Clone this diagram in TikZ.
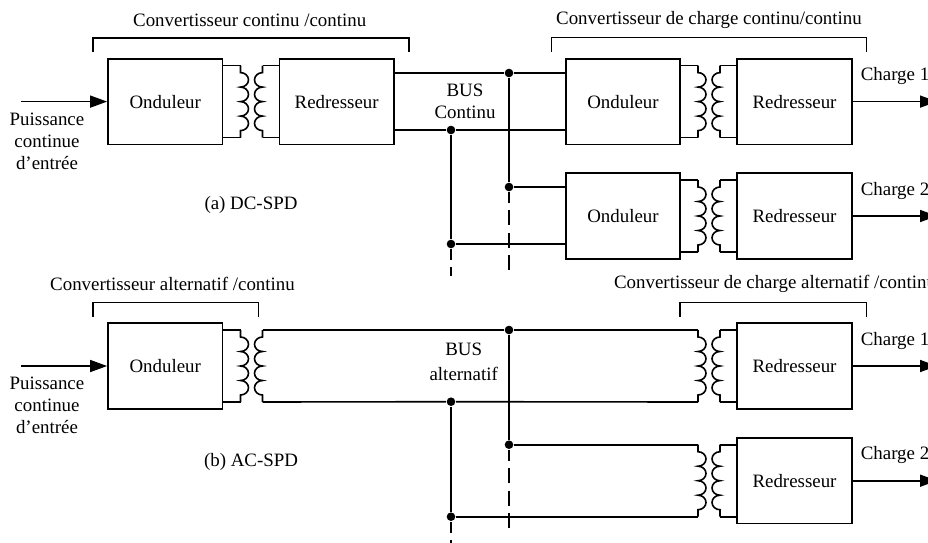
\documentclass[tikz,border=0pt]{standalone}
\usepackage{fontspec}
\setmainfont{Liberation Serif}
\usetikzlibrary{arrows.meta}

\newcommand{\coupler}[4]{
  \draw (#2,#3-#4) coordinate (#1a) -- (#2,#3-29) arc (90:-90:8pt and 7.25pt) arc (90:-90:8pt and 7.25pt)
    arc (90:-90:8pt and 7.25pt) arc (90:-90:8pt and 7.25pt) -- (#2,#3+#4) coordinate (#1b);
  \draw (#2+22,#3-#4) coordinate (#1c) -- (#2+22,#3-29) arc (90:270:8pt and 7.25pt) arc (90:270:8pt and 7.25pt)
    arc (90:270:8pt and 7.25pt) arc (90:270:8pt and 7.25pt) -- (#2+22,#3+#4) coordinate (#1d);
}

\begin{document}
\begin{tikzpicture}[x=1pt,y=-1pt,>={Triangle[length=17pt,width=12pt]},line width=1.6pt,node distance=171.5pt,
  font=\fontsize{18.9pt}{22pt}\selectfont,
  main node/.style={rectangle,draw,line width=1.7pt,inner sep=0pt,minimum width=114.5pt,minimum height=85.7pt},
  dot node/.style={circle,fill,inner sep=0pt,minimum size=8.6pt},
  text node/.style={align=center,inner sep=0pt},
  open line/.style={line width=2.8pt,dash pattern=on 15pt off 7.5pt,dash phase=4.3pt},
  span line/.style={line width=1.4pt}]

  \useasboundingbox (0,0) rectangle (928,542);

  \node[main node] (ond1) at (165.2,101.6) {Onduleur};
  \node[main node] (red1) [right of=ond1] {Redresseur};
  \node[main node] (ond2) at (623,101.6) {Onduleur};
  \node[main node] (red2) [right of=ond2] {Redresseur};
  \node[main node] (ond3) at (623,216) {Onduleur};
  \node[main node] (red3) [right of=ond3] {Redresseur};

  \node[main node] (ond4) at (165.2,366) {Onduleur};
  \node[main node] (red4) at (794.5,366) {Redresseur};
  \node[main node] (red5) at (794.5,480.7) {Redresseur};

  \coupler{ca}{240.5}{101.6}{36}
  \coupler{cb}{698}{101.6}{36}
  \coupler{cc}{698}{216}{36}
  \coupler{cd}{240.5}{366}{36}
  \coupler{ce}{698}{366}{36}
  \coupler{cf}{698}{480.7}{36}

  \foreach \blk/\coil in {ond1/ca,ond2/cb,ond3/cc,ond4/cd}{
    \draw (\blk.east |- \coil a) -- (\coil a);
    \draw (\blk.east |- \coil b) -- (\coil b);
  }
  \foreach \blk/\coil in {red1/ca,red2/cb,red3/cc,red4/ce,red5/cf}{
    \draw (\blk.west |- \coil c) -- (\coil c);
    \draw (\blk.west |- \coil d) -- (\coil d);
  }

  % DC-SPD
  \node[dot node] (d1) at (509,73) {};
  \node[dot node] (d2) at (451,130) {};
  \node[dot node] (d3) at (509,187) {};
  \node[dot node] (d4) at (451,244) {};
  \coordinate (e1) at (509,270.5);
  \coordinate (e2) at (451,275.5);

  \draw (red1.east |- d1) -- (d1) -- (ond2.west |- d1);
  \draw (red1.east |- d2) -- (d2) -- (ond2.west |- d2);
  \draw (d3) -- (ond3.west |- d3);
  \draw (d4) -- (ond3.west |- d4);
  \draw (d1) -- (d3);
  \draw (d2) -- (d4);
  \draw[open line] (d3) -- (e1);
  \draw[open line] (d4) -- (e2);

  % AC-SPD
  \node[dot node] (d5) at (509,330) {};
  \node[dot node] (d6) at (451,401.7) {};
  \node[dot node] (d7) at (509,444.7) {};
  \node[dot node] (d8) at (451,516.7) {};
  \coordinate (e3) at (509,528);
  \coordinate (e4) at (451,548);

  \draw (cdc) -- (d5) -- (cea);
  \draw (cdd) -- (d6) -- (ceb);
  \draw (d7) -- (cfa);
  \draw (d8) -- (cfb);
  \draw (d5) -- (d7);
  \draw (d6) -- (d8);
  \draw[open line] (d7) -- (e3);
  \draw[open line] (d8) -- (e4);

  % inputs and outputs
  \coordinate (in1) at (21,101.6);
  \coordinate (in2) at (21,366);
  \coordinate (out1) at (937,101.6);
  \coordinate (out2) at (937,216);
  \coordinate (out3) at (937,366);
  \coordinate (out4) at (937,480.7);
  \draw[->] (in1) -- (ond1);
  \draw[->] (in2) -- (ond4);
  \draw[->] (red2) -- (out1);
  \draw[->] (red3) -- (out2);
  \draw[->] (red4) -- (out3);
  \draw[->] (red5) -- (out4);

  % brackets
  \coordinate (b1) at (93,52);
  \coordinate (b2) at (409,52);
  \coordinate (b3) at (551.7,52);
  \coordinate (b4) at (866.3,52);
  \coordinate (b5) at (93,316.7);
  \coordinate (b6) at (258.5,316.7);
  \coordinate (b7) at (680,316.7);
  \coordinate (b8) at (866.3,316.7);
  \draw[span line] (b1) -- ++(0,-14) -| (b2);
  \draw[span line] (b3) -- ++(0,-14.5) -| (b4);
  \draw[span line] (b5) -- ++(0,-14.5) -| (b6);
  \draw[span line] (b7) -- ++(0,-14.5) -| (b8);

  \node[text node] (t1) at (249.7,20) {Convertisseur continu /continu};
  \node[text node] (t2) at (709,20) {Convertisseur de charge continu/continu};
  \node[text node] (t3) at (172.5,284) {Convertisseur alternatif /continu};
  \node[text node,anchor=west] (t4) at (613.3,284) {Convertisseur de charge alternatif /continu};

  \node[text node] (bus1) at (465,101.5) {BUS\\Continu};
  \node[text node] (bus2) at (463.7,362) {BUS\\[3pt]alternatif};
  \node[text node] (in3) at (47,141) {Puissance\\continue\\d’entrée};
  \node[text node] (in4) at (47,405.5) {Puissance\\continue\\d’entrée};
  \node[text node] (cap1) at (251,205) {(a) DC-SPD};
  \node[text node] (cap2) at (251,461.7) {(b) AC-SPD};

  \node[text node,anchor=west] (ch1) at (860,76) {Charge 1};
  \node[text node,anchor=west] (ch2) at (860,190.7) {Charge 2};
  \node[text node,anchor=west] (ch3) at (860,341) {Charge 1};
  \node[text node,anchor=west] (ch4) at (860,455) {Charge 2};

\end{tikzpicture}
\end{document}
